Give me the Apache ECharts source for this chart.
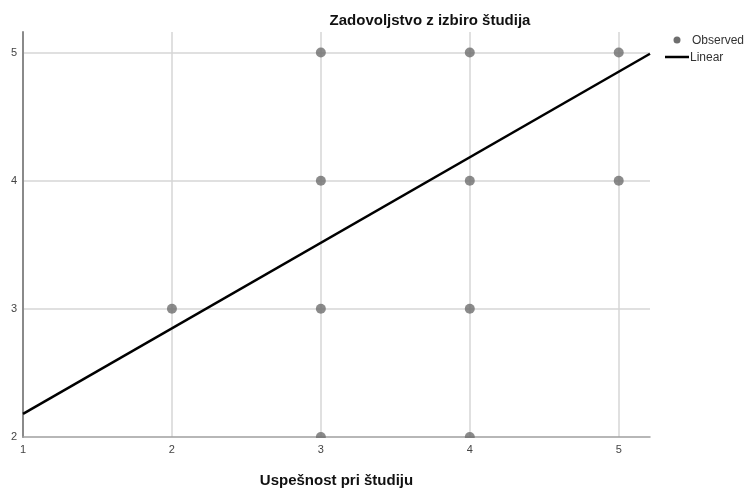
<!DOCTYPE html>
<html>
<head>
<meta charset="utf-8">
<script src="https://cdn.jsdelivr.net/npm/echarts@6/dist/echarts.min.js"></script>
<style>
  html, body { margin: 0; padding: 0; background: #fff; }
  #chart { width: 750px; height: 488px; }
</style>
</head>
<body>
<div id="chart"></div>
<script>
// Observed responses
const observedX = [3, 4, 5, 3, 4, 5, 2, 3, 4, 3, 4];
const observedY = [5, 5, 5, 4, 4, 4, 3, 3, 3, 2, 2];
// Linear fit, end points across the x range
const linearX = [1, 5.21];
const linearY = [2.18, 4.99];
// Axis ticks
const xTicks = [1, 2, 3, 4, 5];
const yTicks = [2, 3, 4, 5];

const titleText = 'Zadovoljstvo z izbiro študija';
const xName = 'Uspešnost pri študiju';

const FONT = '"Liberation Sans Narrow", "Liberation Sans", Arial, sans-serif';
const G = { left: 23, top: 32, right: 100, bottom: 51, outerBoundsMode: 'none', containLabel: false };

const chart = echarts.init(document.getElementById('chart'));
chart.setOption({
  backgroundColor: '#fff',
  animation: false,
  title: {
    text: titleText,
    left: 425, top: 8, textAlign: 'center',
    textStyle: { fontFamily: 'Liberation Sans, Arial, sans-serif', fontSize: 15, fontWeight: 'bold', color: '#111' }
  },
  grid: G,
  xAxis: {
    type: 'value', min: xTicks[0], max: linearX[1], interval: 1,
    name: xName, nameLocation: 'middle', nameGap: 36,
    nameTextStyle: { fontFamily: 'Liberation Sans, Arial, sans-serif', fontSize: 15, fontWeight: 'bold', color: '#111' },
    axisLine: { show: true, lineStyle: { color: '#a0a0a0', width: 1.5 } },
    axisTick: { show: false },
    axisLabel: {
      fontFamily: FONT, fontSize: 11, color: '#444', margin: 7,
      showMaxLabel: false,
      formatter: v => (xTicks.indexOf(v) >= 0 ? String(v) : '')
    },
    splitLine: { show: true, showMinLine: false, showMaxLine: false, lineStyle: { color: '#d6d6d6', width: 1.5 } }
  },
  yAxis: {
    type: 'value', min: yTicks[0], max: 5.16, interval: 1,
    axisLine: { show: true, onZero: false, lineStyle: { color: '#8a8a8a', width: 2 } },
    axisTick: { show: false },
    axisLabel: {
      fontFamily: FONT, fontSize: 11, color: '#444', margin: 6,
      showMaxLabel: false,
      formatter: v => (yTicks.indexOf(v) >= 0 ? String(v) : '')
    },
    splitLine: { show: true, showMinLine: false, showMaxLine: false, lineStyle: { color: '#d6d6d6', width: 1.5 } }
  },
  series: [
    {
      name: 'Observed', type: 'scatter', z: 3,
      symbol: 'circle', symbolSize: 10,
      itemStyle: { color: '#6e6e6e' },
      data: observedX.map((x, i) => [x, observedY[i]])
    },
    {
      name: 'Linear', type: 'line', z: 4,
      showSymbol: false, symbol: 'none',
      lineStyle: { color: '#000', width: 2.5 },
      data: linearX.map((x, i) => [x, linearY[i]])
    }
  ],
  graphic: [
    // mask the part of the markers falling below the x axis
    { type: 'rect', z: 50, shape: { x: 24, y: 438, width: 630, height: 5 }, style: { fill: '#fff' } },
    // legend
    { type: 'circle', z: 60, shape: { cx: 677, cy: 40, r: 3.5 }, style: { fill: '#6e6e6e' } },
    { type: 'text', z: 60, style: { x: 692, y: 41, text: 'Observed', fontFamily: FONT, fontSize: 12, fill: '#333', verticalAlign: 'middle' } },
    { type: 'line', z: 60, shape: { x1: 665, y1: 57, x2: 689, y2: 57 }, style: { stroke: '#000', lineWidth: 2.5 } },
    { type: 'text', z: 60, style: { x: 690, y: 58, text: 'Linear', fontFamily: FONT, fontSize: 12, fill: '#333', verticalAlign: 'middle' } }
  ]
});
</script>
</body>
</html>
